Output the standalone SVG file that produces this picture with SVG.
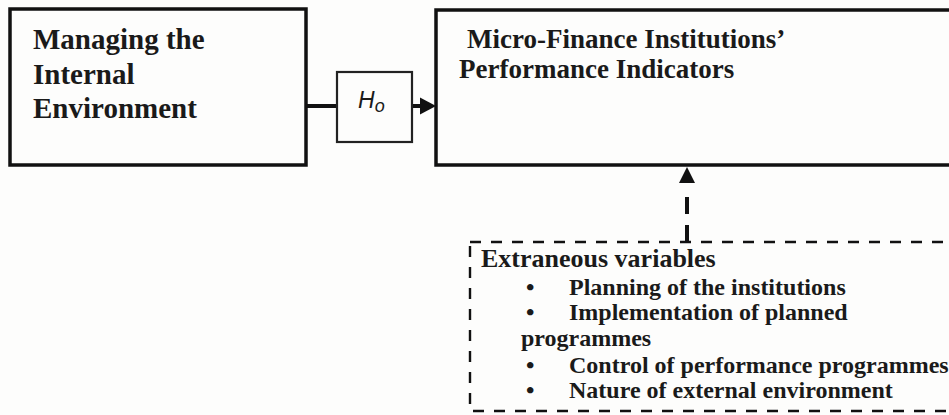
<svg xmlns="http://www.w3.org/2000/svg" width="949" height="415" viewBox="0 0 949 415">
<style>
.box{fill:none;stroke:#111;stroke-width:3.5}
.hbox{fill:none;stroke:#222;stroke-width:2.2}
.dbox{fill:none;stroke:#111;stroke-width:2.4;stroke-dasharray:11 10}
.conn{fill:none;stroke:#111;stroke-width:4}
.t{font-family:"Liberation Serif","Times New Roman",serif;font-weight:bold;fill:#1a1a1a}
.s{font-family:"Liberation Sans",Arial,sans-serif;font-style:italic;fill:#1a1a1a}
</style>
<rect width="949" height="415" fill="#fdfdfc"/>
<g id="connectors">
<line class="conn" x1="306" y1="106" x2="337" y2="106"/>
<line class="conn" x1="412" y1="106" x2="424" y2="106"/>
<path d="M420,97.5 L436,106 L420,114.5 Z" fill="#111"/>
<line class="conn" x1="687" y1="242" x2="687" y2="196" stroke-dasharray="17 11"/>
<path d="M679,183 L687,167 L695,183 Z" fill="#111"/>
</g>
<g id="node-internal">
<rect class="box" x="10" y="9" width="296" height="156"/>
<text class="t" font-size="29" x="33" y="49">Managing the</text>
<text class="t" font-size="29" x="33" y="84">Internal</text>
<text class="t" font-size="29" x="33" y="118">Environment</text>
</g>
<g id="node-ho">
<rect class="hbox" x="337" y="72" width="75" height="70"/>
<text class="s" font-size="23" x="358" y="108">H<tspan font-size="18" dy="4">o</tspan></text>
</g>
<g id="node-mfi">
<rect class="box" x="436" y="10" width="530" height="155"/>
<text class="t" font-size="27" x="467" y="48">Micro-Finance Institutions’</text>
<text class="t" font-size="27" x="459" y="78">Performance Indicators</text>
</g>
<g id="node-extraneous">
<rect class="dbox" x="470" y="242" width="500" height="169"/>
<text class="t" font-size="26" x="481" y="267">Extraneous variables</text>
<text class="t" font-size="24" x="526" y="295">•</text>
<text class="t" font-size="24" x="569" y="295">Planning of the institutions</text>
<text class="t" font-size="24" x="526" y="320">•</text>
<text class="t" font-size="24" x="569" y="320">Implementation of planned</text>
<text class="t" font-size="24" x="521" y="346">programmes</text>
<text class="t" font-size="24" x="526" y="373">•</text>
<text class="t" font-size="24" x="569" y="373">Control of performance programmes</text>
<text class="t" font-size="24" x="526" y="398">•</text>
<text class="t" font-size="24" x="569" y="398">Nature of external environment</text>
</g>
</svg>
